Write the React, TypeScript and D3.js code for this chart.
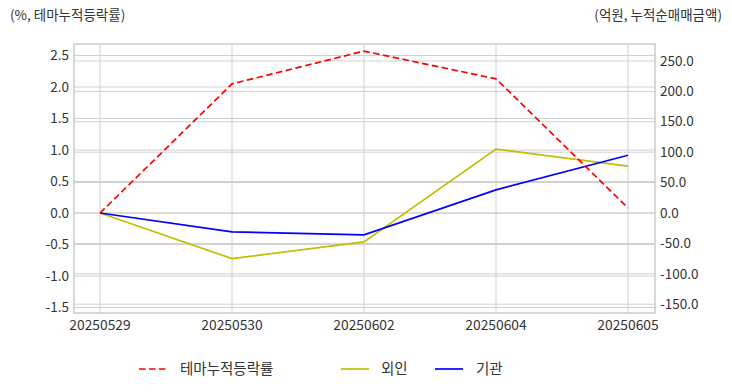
import React from "react";
import * as d3 from "d3";

const dates = ["20250529", "20250530", "20250602", "20250604", "20250605"];
const themeRate = [0.0, 2.05, 2.57, 2.13, 0.08];
const foreign = [0, -75, -47.5, 105, 77];
const institution = [0, -31, -36, 38, 95];
const leftTicks = [2.5, 2.0, 1.5, 1.0, 0.5, 0.0, -0.5, -1.0, -1.5];
const rightTicks = [250, 200, 150, 100, 50, 0, -50, -100, -150];

const W = 732, H = 392;
const L = 74, R = 655, T = 44, B = 313;
const FONT = "'Noto Sans CJK KR', 'Noto Sans', sans-serif";

export default function App() {
  const x = d3.scalePoint<string>().domain(dates).range([100, 628]);
  const yL = d3.scaleLinear().domain([-1.587, 2.683]).range([B, T]);
  const yR = d3.scaleLinear().domain([-164.5, 277.9]).range([B, T]);
  const lineL = d3.line<number>().x((_, i) => x(dates[i])!).y((d) => yL(d));
  const lineR = d3.line<number>().x((_, i) => x(dates[i])!).y((d) => yR(d));
  const grid = "#d0d0d0";
  const txt = "#333";
  return (
    <svg width={W} height={H} style={{ position: "absolute", left: 0, top: 0, background: "#fff" }} fontFamily={FONT}>
      <rect x={0} y={0} width={W} height={H} fill="#fff" />
      {leftTicks.map((t) => (
        <line key={"gl" + t} x1={L} x2={R} y1={yL(t)} y2={yL(t)} stroke={grid} strokeWidth={1} />
      ))}
      {rightTicks.map((t) => (
        <line key={"gr" + t} x1={L} x2={R} y1={yR(t)} y2={yR(t)} stroke={grid} strokeWidth={1} />
      ))}
      {dates.map((d) => (
        <line key={"gx" + d} x1={x(d)} x2={x(d)} y1={T} y2={B} stroke={grid} strokeWidth={1} />
      ))}
      <rect x={L} y={T} width={R - L} height={B - T} fill="none" stroke="#cccccc" strokeWidth={1.5} />
      <path d={lineR(foreign)!} fill="none" stroke="#bfbf00" strokeWidth={1.7} />
      <path d={lineR(institution)!} fill="none" stroke="#0000ff" strokeWidth={1.7} />
      <path d={lineL(themeRate)!} fill="none" stroke="#ff0000" strokeWidth={1.7} strokeDasharray="6.5,3.5" />
      {leftTicks.map((t) => (
        <text key={"tl" + t} x={L - 5} y={yL(t)} dy="0.35em" textAnchor="end" fontSize={13.5} fill={txt}>
          {t.toFixed(1)}
        </text>
      ))}
      {rightTicks.map((t) => (
        <text key={"tr" + t} x={R + 5} y={yR(t)} dy="0.35em" textAnchor="start" fontSize={13.5} fill={txt}>
          {t.toFixed(1)}
        </text>
      ))}
      {dates.map((d) => (
        <text key={"tx" + d} x={x(d)} y={B + 17} textAnchor="middle" fontSize={13.8} fill={txt}>
          {d}
        </text>
      ))}
      <text x={10} y={20} fontSize={13.5} fill={txt}>(%, 테마누적등락률)</text>
      <text x={722} y={20} fontSize={13.5} fill={txt} textAnchor="end">(억원, 누적순매매금액)</text>
      <g>
        <line x1={139} x2={168} y1={369} y2={369} stroke="#ff0000" strokeWidth={1.7} strokeDasharray="6.5,3.5" />
        <text x={180} y={369} dy="0.35em" fontSize={14.5} fill={txt}>테마누적등락률</text>
        <line x1={341} x2={369} y1={369} y2={369} stroke="#bfbf00" strokeWidth={1.7} />
        <text x={381} y={369} dy="0.35em" fontSize={14.5} fill={txt}>외인</text>
        <line x1={435} x2={463} y1={369} y2={369} stroke="#0000ff" strokeWidth={1.7} />
        <text x={476} y={369} dy="0.35em" fontSize={14.5} fill={txt}>기관</text>
      </g>
    </svg>
  );
}
